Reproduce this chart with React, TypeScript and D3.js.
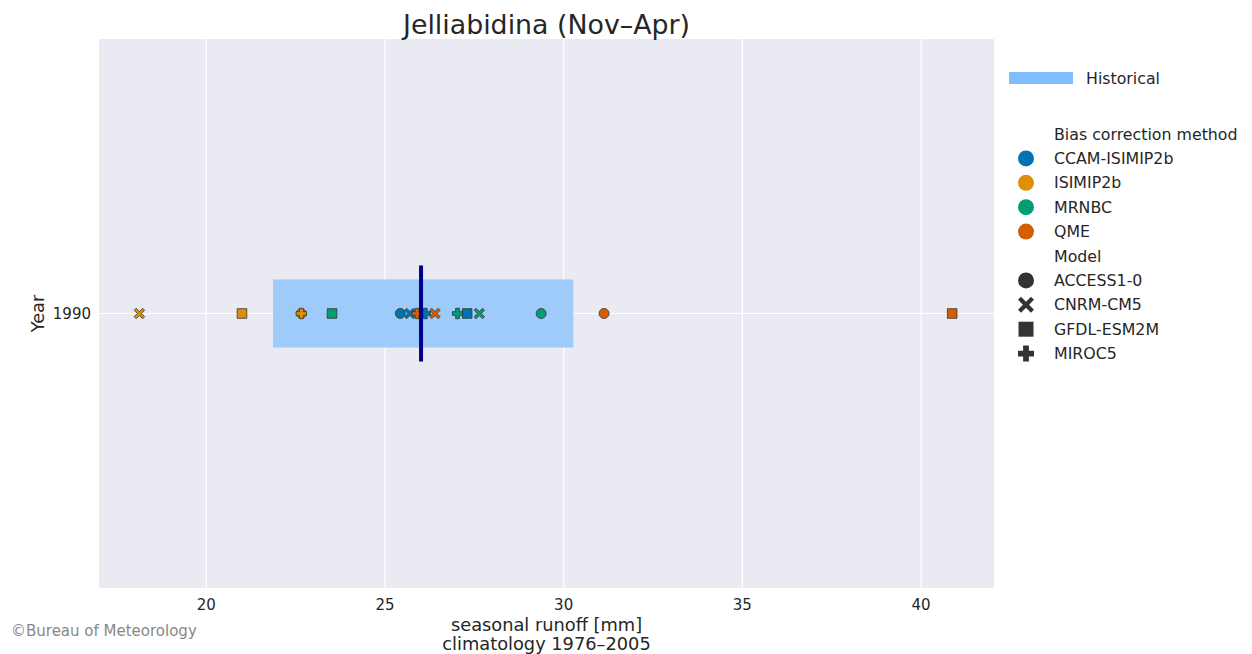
import React, { useEffect, useRef } from "react";
import * as d3 from "d3";

// chart data
const years = ["1990"];
const methods = ["CCAM-ISIMIP2b", "ISIMIP2b", "MRNBC", "QME"];
const methodColors = ["#0173b2", "#de8f05", "#029e73", "#d55e00"];
const models = ["ACCESS1-0", "CNRM-CM5", "GFDL-ESM2M", "MIROC5"];
const modelShapes = ["circle", "x", "square", "plus"];

// values per method, in model order (ACCESS1-0, CNRM-CM5, GFDL-ESM2M, MIROC5)
const ccamValues = [25.43, 25.7, 27.3, 26.13];
const isimipValues = [22.66, 18.13, 21.0, 22.66];
const mrnbcValues = [29.37, 27.64, 23.52, 27.03];
const qmeValues = [31.13, 26.4, 40.87, 25.9];
const methodValues = [ccamValues, isimipValues, mrnbcValues, qmeValues];

// historical range (min, max) and median
const historicalLow = 21.87;
const historicalHigh = 30.27;
const historicalMedian = 26.01;

const xTicks = [20, 25, 30, 35, 40];
const xDomain = [17.0, 42.04];

const FONT = "DejaVu Sans, sans-serif";

function shapePath(shape: string, r: number): string {
  if (shape === "square") {
    return `M${-r},${-r}H${r}V${r}H${-r}Z`;
  }
  if (shape === "plus") {
    const t = r * 0.36;
    return `M${-t},${-r}H${t}V${-t}H${r}V${t}H${t}V${r}H${-t}V${t}H${-r}V${-t}H${-t}Z`;
  }
  // filled X
  const a = r * 0.38;
  const pts: [number, number][] = [
    [0, -a], [r - a, -r], [r, -r + a], [a, 0], [r, r - a], [r - a, r],
    [0, a], [-r + a, r], [-r, r - a], [-a, 0], [-r, -r + a], [-r + a, -r],
  ];
  return "M" + pts.map((p) => p.join(",")).join("L") + "Z";
}

function drawMarker(g: any, shape: string, x: number, y: number, r: number, fill: string, stroke: string | null) {
  let el;
  if (shape === "circle") {
    el = g.append("circle").attr("cx", x).attr("cy", y).attr("r", r);
  } else {
    el = g.append("path").attr("d", shapePath(shape, r)).attr("transform", `translate(${x},${y})`);
  }
  el.attr("fill", fill);
  if (stroke) el.attr("stroke", stroke).attr("stroke-width", 0.8);
  return el;
}

export default function App() {
  const ref = useRef<SVGSVGElement>(null);

  useEffect(() => {
    const width = 1252;
    const height = 654;
    const margin = { top: 39, right: 258, bottom: 66, left: 99 };
    const innerRight = width - margin.right;
    const innerBottom = height - margin.bottom;

    const svg = d3.select(ref.current).attr("width", width).attr("height", height);
    svg.selectAll("*").remove();

    svg.append("rect").attr("width", width).attr("height", height).attr("fill", "#ffffff");

    const xScale = d3.scaleLinear().domain(xDomain).range([margin.left, innerRight]);
    const yScale = d3.scaleBand().domain(years).range([margin.top, innerBottom]);
    const bw = yScale.bandwidth();

    // plot background
    svg.append("rect")
      .attr("x", margin.left).attr("y", margin.top)
      .attr("width", innerRight - margin.left).attr("height", innerBottom - margin.top)
      .attr("fill", "#eaeaf2");

    // grid
    svg.append("g").selectAll("line").data(xTicks).join("line")
      .attr("x1", (d) => xScale(d)).attr("x2", (d) => xScale(d))
      .attr("y1", margin.top).attr("y2", innerBottom)
      .attr("stroke", "#ffffff").attr("stroke-width", 1.2);
    svg.append("g").selectAll("line").data(years).join("line")
      .attr("x1", margin.left).attr("x2", innerRight)
      .attr("y1", (d) => yScale(d)! + bw / 2).attr("y2", (d) => yScale(d)! + bw / 2)
      .attr("stroke", "#ffffff").attr("stroke-width", 1.2);

    // x tick labels
    svg.append("g").selectAll("text").data(xTicks).join("text")
      .attr("x", (d) => xScale(d)).attr("y", innerBottom + 22)
      .attr("text-anchor", "middle")
      .style("font-family", FONT).style("font-size", "15px").attr("fill", "#262626")
      .text((d) => d);

    // y tick labels
    svg.append("g").selectAll("text").data(years).join("text")
      .attr("x", margin.left - 8).attr("y", (d) => yScale(d)! + bw / 2 + 5.5)
      .attr("text-anchor", "end")
      .style("font-family", FONT).style("font-size", "15px").attr("fill", "#262626")
      .text((d) => d);

    // historical box + markers + median line
    years.forEach((yr) => {
      const cy = yScale(yr)! + bw / 2;
      svg.append("rect")
        .attr("x", xScale(historicalLow)).attr("y", cy - bw * 0.062)
        .attr("width", xScale(historicalHigh) - xScale(historicalLow)).attr("height", bw * 0.124)
        .attr("fill", "#9ecbfa");

      const mg = svg.append("g");
      methods.forEach((m, i) => {
        models.forEach((mo, j) => {
          drawMarker(mg, modelShapes[j], xScale(methodValues[i][j]), cy,
            modelShapes[j] === "circle" ? 5 : modelShapes[j] === "square" ? 4.8 : 5.2,
            methodColors[i], "#333333");
        });
      });

      svg.append("line")
        .attr("x1", xScale(historicalMedian)).attr("x2", xScale(historicalMedian))
        .attr("y1", cy - bw * 0.0875).attr("y2", cy + bw * 0.0875)
        .attr("stroke", "#00008b").attr("stroke-width", 4);
    });

    // title
    svg.append("text")
      .attr("x", (margin.left + innerRight) / 2).attr("y", 34)
      .attr("text-anchor", "middle")
      .style("font-family", FONT).style("font-size", "26.8px").attr("fill", "#262626")
      .text("Jelliabidina (Nov–Apr)");

    // axis labels
    const xl = svg.append("text")
      .attr("text-anchor", "middle")
      .style("font-family", FONT).style("font-size", "17.8px").attr("fill", "#262626");
    xl.append("tspan").attr("x", (margin.left + innerRight) / 2).attr("y", 631).text("seasonal runoff [mm]");
    xl.append("tspan").attr("x", (margin.left + innerRight) / 2).attr("y", 650).text("climatology 1976–2005");

    svg.append("text")
      .attr("transform", `translate(44, ${(margin.top + innerBottom) / 2}) rotate(-90)`)
      .attr("text-anchor", "middle")
      .style("font-family", FONT).style("font-size", "17.8px").attr("fill", "#262626")
      .text("Year");

    svg.append("text")
      .attr("x", 11).attr("y", 636)
      .style("font-family", FONT).style("font-size", "15px").attr("fill", "#888888")
      .text("©Bureau of Meteorology");

    // legend
    const lg = svg.append("g").style("font-family", FONT).style("font-size", "15.8px").attr("fill", "#262626");
    lg.append("rect").attr("x", 1009).attr("y", 72).attr("width", 64).attr("height", 12).attr("fill", "#80bdff");
    lg.append("text").attr("x", 1086).attr("y", 84).text("Historical");

    const rowStep = 24.4;
    const rows: { label: string; color?: string; shape?: string }[] = [
      { label: "Bias correction method" },
      ...methods.map((m, i) => ({ label: m, color: methodColors[i], shape: "circle" })),
      { label: "Model" },
      ...models.map((m, j) => ({ label: m, color: "#333333", shape: modelShapes[j] })),
    ];
    rows.forEach((r, i) => {
      const cy = 134 + i * rowStep;
      lg.append("text").attr("x", 1054).attr("y", cy + 5.5).text(r.label);
      if (r.shape) {
        drawMarker(lg, r.shape, 1026, cy, r.shape === "circle" ? 8 : r.shape === "square" ? 7.5 : 8, r.color!, null);
      }
    });
  }, []);

  return (
    <svg ref={ref} style={{ position: "absolute", left: 0, top: 0 }}></svg>
  );
}
